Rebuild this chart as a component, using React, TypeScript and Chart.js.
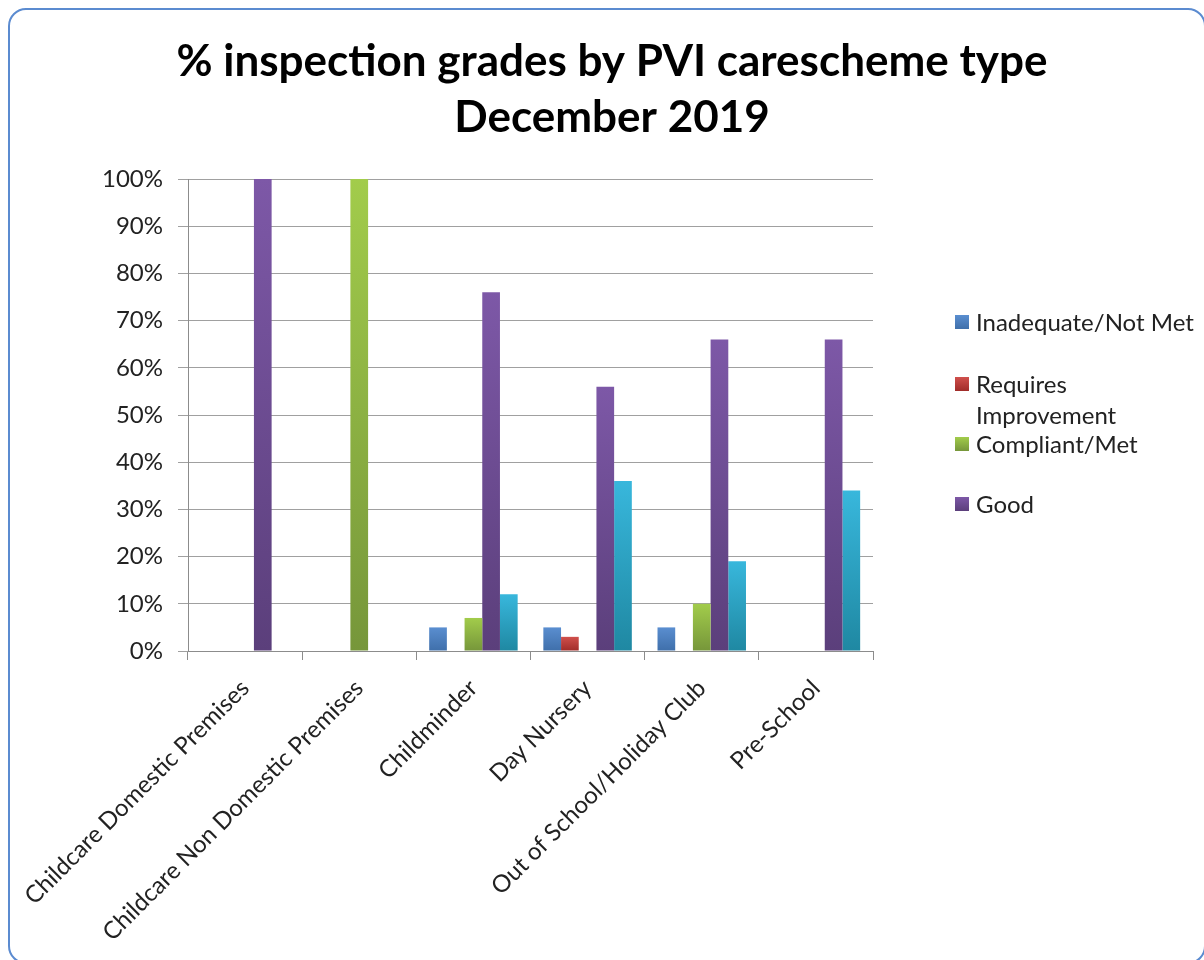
import React, { useEffect, useRef } from "react";
import { Chart, registerables } from "chart.js";

Chart.register(...registerables);

const categories = [
  "Childcare Domestic Premises",
  "Childcare Non Domestic Premises",
  "Childminder",
  "Day Nursery",
  "Out of School/Holiday Club",
  "Pre-School",
];

const inadequate = [0, 0, 5, 5, 5, 0];
const requiresImprovement = [0, 0, 0, 3, 0, 0];
const compliant = [0, 100, 7, 0, 10, 0];
const good = [100, 0, 76, 56, 66, 66];
const outstanding = [0, 0, 12, 36, 19, 34];

const titleLines = ["% inspection grades by PVI carescheme type", "December 2019"];
const yTicks = [0, 10, 20, 30, 40, 50, 60, 70, 80, 90, 100];

const FONT = "Lato";

type Grad = { top: string; bottom: string; solid: string };
const colors: Grad[] = [
  { top: "#5A8ED0", bottom: "#3F6FAA", solid: "#4F81BD" },
  { top: "#D0504C", bottom: "#A02C29", solid: "#C0504D" },
  { top: "#A2CC4B", bottom: "#76963A", solid: "#9BBB59" },
  { top: "#7D58A7", bottom: "#5B3F7B", solid: "#7355A0" },
  { top: "#38B7DC", bottom: "#1F88A2", solid: "#31A8CB" },
];

const legendNames: (string | string[])[] = [
  "Inadequate/Not Met",
  ["Requires", "Improvement"],
  "Compliant/Met",
  "Good",
];

function barFill(idx: number) {
  return (ctx: any) => {
    const c = colors[idx];
    const chart = ctx.chart;
    if (!chart.chartArea || ctx.type !== "data") return c.solid;
    const ys = chart.scales.y;
    const v = ctx.raw as number;
    const top = ys.getPixelForValue(v);
    const bottom = ys.getPixelForValue(0);
    if (!isFinite(top) || bottom - top < 1) return c.solid;
    const g = chart.ctx.createLinearGradient(0, top, 0, bottom);
    g.addColorStop(0, c.top);
    g.addColorStop(1, c.bottom);
    return g;
  };
}

const legendPlugin = {
  id: "customLegend",
  afterDraw(chart: any) {
    const ctx = chart.ctx as CanvasRenderingContext2D;
    const sqX = 947;
    const sq = 14;
    const textX = 968;
    const rows = [314, 376, 436, 496];
    ctx.save();
    ctx.font = `24px ${FONT}`;
    ctx.textBaseline = "middle";
    ctx.textAlign = "left";
    legendNames.forEach((name, i) => {
      const cy = rows[i];
      const c = colors[i];
      const g = ctx.createLinearGradient(0, cy - sq / 2, 0, cy + sq / 2);
      g.addColorStop(0, c.top);
      g.addColorStop(1, c.bottom);
      ctx.fillStyle = g;
      ctx.fillRect(sqX, cy - sq / 2, sq, sq);
      ctx.fillStyle = "#222";
      const lines = Array.isArray(name) ? name : [name];
      lines.forEach((ln, j) => ctx.fillText(ln, textX, cy + 1 + j * 31));
    });
    ctx.restore();
  },
};

export default function App() {
  const ref = useRef<HTMLCanvasElement | null>(null);

  useEffect(() => {
    if (!ref.current) return;
    const names = ["Inadequate/Not Met", "Requires Improvement", "Compliant/Met", "Good", "Outstanding"];
    const series = [inadequate, requiresImprovement, compliant, good, outstanding];
    const chart = new Chart(ref.current, {
      type: "bar",
      data: {
        labels: categories,
        datasets: series.map((d, i) => ({
          label: names[i],
          data: d,
          backgroundColor: barFill(i),
          borderWidth: 0,
          categoryPercentage: 0.775,
          barPercentage: 1.0,
          yAxisID: "y",
        })),
      },
      options: {
        responsive: false,
        animation: false,
        layout: { padding: { left: 12, right: 0, top: 0, bottom: 0 } },
        plugins: {
          legend: { display: false },
          tooltip: { enabled: false },
          title: {
            display: true,
            text: titleLines,
            color: "#000",
            font: { family: FONT, size: 44, weight: "bold", lineHeight: 1.273 },
            padding: { top: 26, bottom: 33 },
          },
        },
        scales: {
          x: {
            grid: {
              display: true,
              drawOnChartArea: false,
              drawTicks: true,
              tickLength: 9,
              color: "#8c8c8c",
              offset: true,
            },
            border: { display: true, color: "#8c8c8c", width: 1 },
            ticks: {
              color: "#222",
              font: { family: FONT, size: 24 },
              minRotation: 45,
              maxRotation: 45,
              autoSkip: false,
              padding: 14,
            },
            afterFit: (s: any) => {
              s.height = 309;
              s.paddingLeft = 0;
              s.paddingRight = 0;
            },
          },
          y: {
            min: 0,
            max: 100,
            afterBuildTicks: (s: any) => {
              s.ticks = yTicks.map((v) => ({ value: v }));
            },
            grid: { color: "#a0a0a0", lineWidth: 1, tickLength: 10, drawTicks: true },
            border: { display: true, color: "#8c8c8c", width: 1 },
            ticks: {
              color: "#222",
              font: { family: FONT, size: 24 },
              padding: 15,
              callback: (v: any) => `${v}%`,
            },
            afterFit: (s: any) => {
              s.width = 168;
              s.paddingTop = 0;
              s.paddingBottom = 0;
            },
          },
          y2: {
            position: "right",
            display: true,
            min: 0,
            max: 1,
            grid: { display: false, drawTicks: false },
            border: { display: false },
            ticks: { display: false },
            afterFit: (s: any) => {
              s.width = 331;
            },
          },
        },
      },
      plugins: [legendPlugin],
    } as any);
    return () => chart.destroy();
  }, []);

  return (
    <div
      style={{
        position: "fixed",
        left: 8,
        top: 8,
        width: 1196,
        height: 952,
        overflow: "hidden",
        background: "#fff",
      }}
    >
      <div
        style={{
          position: "absolute",
          left: 0,
          top: 0,
          width: 1198,
          height: 956,
          boxSizing: "border-box",
          border: "2px solid #5B8BD0",
          borderRadius: 18,
        }}
      />
      <canvas
        ref={ref}
        width={1196}
        height={952}
        style={{ position: "absolute", left: 0, top: 0, width: 1196, height: 952 }}
      />
    </div>
  );
}
